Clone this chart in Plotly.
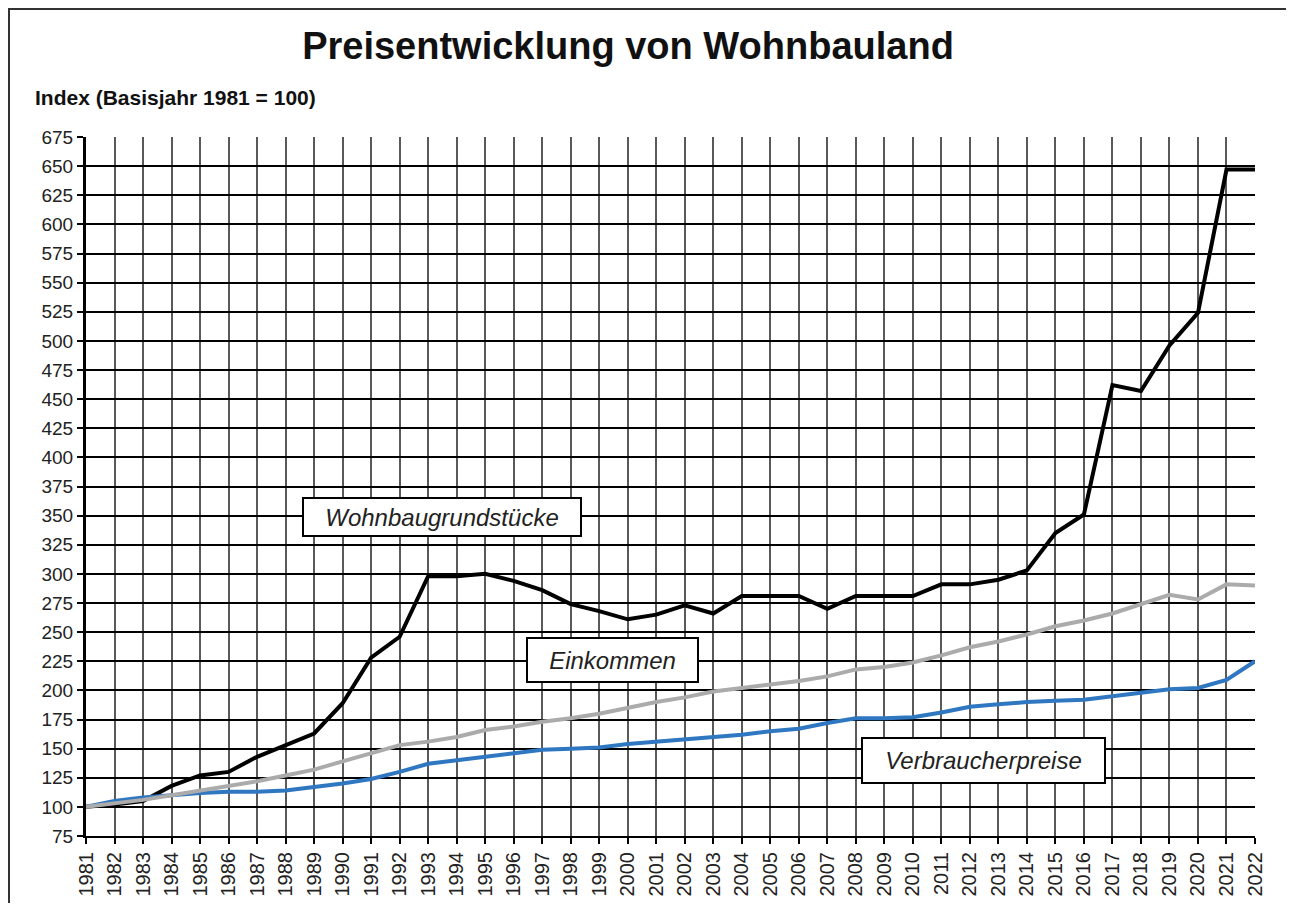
import plotly.graph_objects as go

years = list(range(1981, 2023))

wohnbau = [100, 102, 105, 118, 127, 130, 143, 153, 163, 189, 228, 246, 298, 298, 300,
           294, 286, 274, 268, 261, 265, 273, 266, 281, 281, 281, 270, 281, 281, 281,
           291, 291, 295, 303, 335, 351, 462, 457, 496, 524, 647, 647]

einkommen = [100, 103, 106, 110, 114, 118, 122, 127, 132, 139, 146, 153, 156, 160, 166,
             169, 173, 176, 180, 185, 190, 194, 199, 202, 205, 208, 212, 218, 220, 224,
             230, 237, 242, 248, 255, 260, 266, 274, 282, 278, 291, 290]

verbraucher = [100, 105, 108, 110, 112, 113, 113, 114, 117, 120, 124, 130, 137, 140, 143,
               146, 149, 150, 151, 154, 156, 158, 160, 162, 165, 167, 172, 176, 176, 177,
               181, 186, 188, 190, 191, 192, 195, 198, 201, 202, 209, 225]

y_ticks = list(range(75, 676, 25))
x_labels = [str(y) for y in years]

labels = ["Wohnbaugrundstücke", "Einkommen", "Verbraucherpreise"]

FONT = "Arial, Liberation Sans, sans-serif"

W, H = 1284, 895
L, R, T, B = 78, 37, 129, 67
PW, PH = W - L - R, H - T - B

fig = go.Figure()
fig.add_trace(go.Scatter(x=years, y=wohnbau, mode="lines",
                         line=dict(color="#000000", width=4), name=labels[0]))
fig.add_trace(go.Scatter(x=years, y=verbraucher, mode="lines",
                         line=dict(color="#2f77c0", width=4), name=labels[2]))
fig.add_trace(go.Scatter(x=years, y=einkommen, mode="lines",
                         line=dict(color="#ababab", width=4), name=labels[1]))

fig.update_layout(
    width=W, height=H,
    margin=dict(l=L, r=R, t=T, b=B, pad=0, autoexpand=False),
    paper_bgcolor="white", plot_bgcolor="white",
    showlegend=False,
    font=dict(family=FONT, color="#222222"),
    title=dict(text="<b>Preisentwicklung von Wohnbauland</b>",
               font=dict(size=38, color="#111111", family=FONT),
               x=620 / W, xanchor="center", xref="container",
               y=1 - 38 / H, yanchor="middle", yref="container"),
)

fig.update_xaxes(
    range=[1981, 2022], tickmode="array", tickvals=years, ticktext=x_labels,
    tickangle=-90, tickfont=dict(size=20, color="#222222", family=FONT),
    showgrid=True, gridcolor="#5a5a5a", gridwidth=2,
    showline=True, linecolor="#000000", linewidth=2,
    ticks="outside", ticklen=6, tickwidth=2, tickcolor="#000000",
    zeroline=False, mirror=False, automargin=False,
)
fig.update_yaxes(
    range=[75, 675], tickmode="array", tickvals=y_ticks,
    ticktext=[str(v) for v in y_ticks],
    tickfont=dict(size=19, color="#222222", family=FONT),
    showgrid=True, gridcolor="#000000", gridwidth=2,
    showline=True, linecolor="#000000", linewidth=3,
    ticks="outside", ticklen=6, tickwidth=2, tickcolor="#000000",
    zeroline=False, automargin=False,
)

# subtitle
fig.add_annotation(text="<b>Index (Basisjahr 1981 = 100)</b>",
                   xref="paper", yref="paper",
                   x=(25 - L) / PW, y=(H - B - 89) / PH,
                   xanchor="left", yanchor="middle", showarrow=False,
                   font=dict(size=21, color="#111111", family=FONT))

# series label boxes
boxes = [
    (labels[0], 1993.49, 348.8, 276, 36),
    (labels[1], 1999.47, 226.0, 169, 42),
    (labels[2], 2012.48, 140.2, 241, 43),
]
for text, bx, by, bw, bh in boxes:
    fig.add_annotation(text="<i>" + text + "</i>", x=bx, y=by, xref="x", yref="y",
                       showarrow=False, width=bw, height=bh,
                       bgcolor="white", bordercolor="#000000", borderwidth=2,
                       borderpad=0, align="center", valign="middle",
                       font=dict(size=24, color="#222222", family=FONT))

# outer frame
fig.add_shape(type="rect", xref="paper", yref="paper",
              x0=(1 - L) / PW, x1=(W - 1 - L) / PW,
              y0=-0.3, y1=(H - B - 1) / PH,
              line=dict(color="#333333", width=2), fillcolor="rgba(0,0,0,0)",
              layer="above")

fig.write_html("out.html")
